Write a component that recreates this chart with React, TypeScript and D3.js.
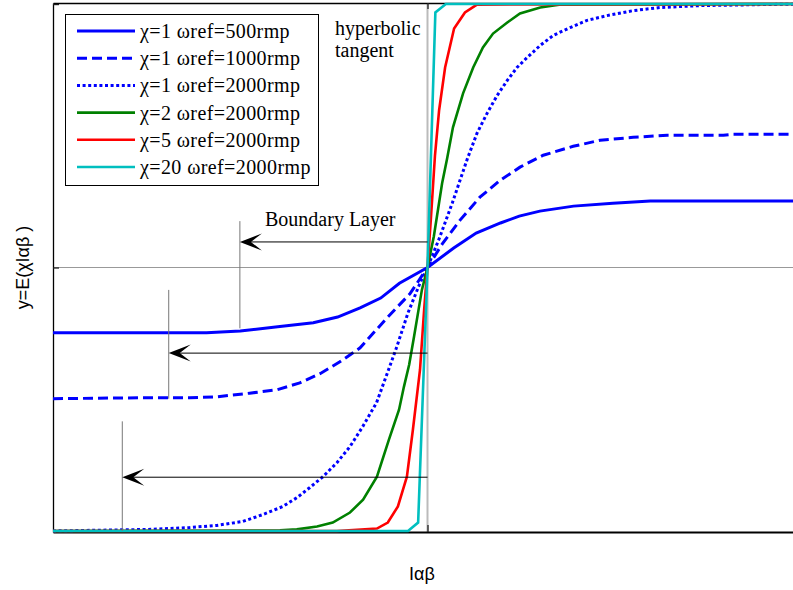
import { useRef, useEffect } from 'react';
import * as d3 from 'd3';

// Curve samples: x in arbitrary units (-10..10), y normalized to [-1, 1]
const chi1w500X = [-10, -5.9, -5.0, -4.0, -3.05, -2.4, -1.8, -1.25, -0.75, 0, 0.7, 1.3, 1.95, 2.45, 3.0, 3.9, 4.95, 5.95, 10];
const chi1w500Y = [-0.248, -0.248, -0.241, -0.225, -0.21, -0.188, -0.153, -0.116, -0.06, 0, 0.074, 0.131, 0.169, 0.195, 0.214, 0.233, 0.244, 0.252, 0.252];

const chi1w1000X = [-10, -7.37, -6.35, -5.63, -4.75, -4.02, -3.41, -2.87, -2.34, -1.8, -1.08, -0.47, 0, 0.41, 0.87, 1.4, 1.94, 2.47, 3.09, 3.89, 4.61, 5.49, 6.4, 7.9, 8.17, 10];
const chi1w1000Y = [-0.498, -0.494, -0.494, -0.491, -0.477, -0.464, -0.438, -0.403, -0.358, -0.305, -0.191, -0.1, 0, 0.093, 0.18, 0.267, 0.331, 0.381, 0.426, 0.46, 0.483, 0.494, 0.502, 0.502, 0.506, 0.506];

const chi1w2000X = [-10, -7.37, -6.35, -5.63, -4.93, -4.4, -3.86, -3.48, -3.14, -2.79, -2.42, -2.07, -1.73, -1.36, -1.06, -0.82, -0.52, -0.2, 0, 0.33, 0.66, 1.06, 1.32, 1.59, 1.86, 2.13, 2.39, 2.66, 3.01, 3.36, 3.81, 4.26, 4.79, 5.49, 6.22, 7.29, 8.89, 10];
const chi1w2000Y = [-1, -0.994, -0.987, -0.979, -0.964, -0.938, -0.907, -0.873, -0.835, -0.794, -0.741, -0.68, -0.604, -0.513, -0.396, -0.301, -0.172, -0.059, 0, 0.116, 0.244, 0.411, 0.509, 0.585, 0.653, 0.71, 0.759, 0.797, 0.843, 0.881, 0.911, 0.938, 0.956, 0.975, 0.987, 0.994, 0.998, 1];

const chi2X = [-10, -3.94, -3.49, -2.95, -2.53, -2.07, -1.72, -1.35, -1.03, -0.76, -0.63, -0.49, -0.36, -0.15, 0, 0.17, 0.39, 0.52, 0.68, 0.95, 1.22, 1.48, 1.75, 2.13, 2.47, 3.01, 3.56, 10];
const chi2Y = [-1, -0.998, -0.994, -0.983, -0.968, -0.93, -0.881, -0.794, -0.653, -0.54, -0.453, -0.369, -0.263, -0.085, 0, 0.119, 0.32, 0.411, 0.532, 0.661, 0.759, 0.835, 0.888, 0.93, 0.964, 0.987, 0.998, 1];

const chi5X = [-10, -2.42, -1.35, -1.06, -0.79, -0.55, -0.39, -0.2, -0.09, 0, 0.09, 0.2, 0.31, 0.47, 0.71, 1.0, 1.32, 10];
const chi5Y = [-1, -1, -0.991, -0.968, -0.907, -0.794, -0.616, -0.388, -0.161, 0, 0.184, 0.426, 0.597, 0.759, 0.907, 0.968, 0.998, 1];

const chi20X = [-10, -0.52, -0.25, 0, 0.21, 0.49, 10];
const chi20Y = [-1, -1, -0.968, 0, 0.968, 1, 1];

const legendLabels = [
  'χ=1 ωref=500rmp',
  'χ=1 ωref=1000rmp',
  'χ=1 ωref=2000rmp',
  'χ=2 ωref=2000rmp',
  'χ=5 ωref=2000rmp',
  'χ=20 ωref=2000rmp',
];

// boundary layer arrows: tip x, arrow y, guide line top / bottom
const arrowTipX = [-5.01, -6.91, -8.15];
const arrowY = [0.097, -0.325, -0.796];
const guideTop = [0.176, -0.085, -0.584];
const guideBottom = [-0.231, -0.498, -1.0];

const W = 793;
const H = 590;
const SERIF = '"Liberation Serif", "Times New Roman", serif';
const SANS = '"Liberation Sans", Arial, sans-serif';

export default function App() {
  const svgRef = useRef<SVGSVGElement>(null);

  useEffect(() => {
    if (!svgRef.current) return;
    const svg = d3.select(svgRef.current);
    svg.selectAll('*').remove();

    const xScale = d3.scaleLinear().domain([-10, 10]).range([53, 802]);
    const yScale = d3.scaleLinear().domain([-1.004, 1.004]).range([532, 3]);

    const series = [
      { xs: chi1w500X, ys: chi1w500Y, color: '#0000ff', dash: null, width: 3 },
      { xs: chi1w1000X, ys: chi1w1000Y, color: '#0000ff', dash: '10 5', width: 3 },
      { xs: chi1w2000X, ys: chi1w2000Y, color: '#0000ff', dash: '3 2.6', width: 3 },
      { xs: chi2X, ys: chi2Y, color: '#008000', dash: null, width: 2.6 },
      { xs: chi5X, ys: chi5Y, color: '#ff0000', dash: null, width: 2.6 },
      { xs: chi20X, ys: chi20Y, color: '#00bfbf', dash: null, width: 2.6 },
    ];

    // center guide lines
    svg.append('line')
      .attr('x1', xScale(-10)).attr('x2', xScale(10))
      .attr('y1', yScale(0)).attr('y2', yScale(0))
      .attr('stroke', '#999').attr('stroke-width', 1.2);
    svg.append('line')
      .attr('x1', xScale(0)).attr('x2', xScale(0))
      .attr('y1', yScale(1.004)).attr('y2', yScale(-1.004))
      .attr('stroke', '#bbb').attr('stroke-width', 2);

    // axes
    const axisLeft = d3.axisLeft(yScale).tickValues([-1, 0, 1]).tickSize(-6).tickSizeOuter(0).tickFormat(() => '');
    svg.append('g')
      .attr('transform', `translate(${xScale(-10)},0)`)
      .call(axisLeft);
    const axisBottom = d3.axisBottom(xScale).tickValues([0]).tickSize(-7).tickSizeOuter(0).tickFormat(() => '');
    svg.append('g')
      .attr('class', 'xb')
      .attr('transform', `translate(0,${yScale(-1.004)})`)
      .call(axisBottom);
    const axisTop = d3.axisTop(xScale).tickValues([0]).tickSize(-6).tickSizeOuter(0).tickFormat(() => '');
    svg.append('g')
      .attr('transform', `translate(0,${yScale(1.004)})`)
      .call(axisTop);
    svg.selectAll('.domain').attr('stroke', '#000').attr('stroke-width', 1.3);
    svg.select('.xb .domain').attr('stroke-width', 2);
    svg.selectAll('.tick line').attr('stroke', '#222').attr('stroke-width', 1.3);

    // curves
    const line = d3.line<[number, number]>()
      .x(d => xScale(d[0]))
      .y(d => yScale(d[1]));

    series.forEach(s => {
      const pts = s.xs.map((x, i) => [x, s.ys[i]] as [number, number]);
      svg.append('path')
        .datum(pts)
        .attr('fill', 'none')
        .attr('stroke', s.color)
        .attr('stroke-width', s.width)
        .attr('stroke-dasharray', s.dash)
        .attr('d', line);
    });

    // boundary layer annotations
    arrowTipX.forEach((tx, i) => {
      const px = xScale(tx);
      const py = yScale(arrowY[i]);
      svg.append('line')
        .attr('x1', px).attr('x2', px)
        .attr('y1', yScale(guideTop[i])).attr('y2', yScale(guideBottom[i]))
        .attr('stroke', '#777').attr('stroke-width', 1);
      svg.append('line')
        .attr('x1', px + 6).attr('x2', xScale(0))
        .attr('y1', py).attr('y2', py)
        .attr('stroke', '#000').attr('stroke-width', 1);
      svg.append('path')
        .attr('d', `M${px},${py} L${px + 22},${py - 8.5} L${px + 11},${py} L${px + 22},${py + 8.5} Z`)
        .attr('fill', '#000');
    });

    svg.append('text')
      .attr('x', 265).attr('y', 226)
      .attr('font-family', SERIF)
      .attr('font-size', 20)
      .text('Boundary Layer');

    // legend
    const lg = svg.append('g');
    lg.append('rect')
      .attr('x', 65.5).attr('y', 14.5)
      .attr('width', 253).attr('height', 171)
      .attr('fill', '#fff').attr('stroke', '#000').attr('stroke-width', 1);
    legendLabels.forEach((lab, i) => {
      const ry = 31 + i * 27.2;
      const s = series[i];
      lg.append('line')
        .attr('x1', 77).attr('x2', 135)
        .attr('y1', ry).attr('y2', ry)
        .attr('stroke', s.color)
        .attr('stroke-width', s.width)
        .attr('stroke-dasharray', s.dash);
      lg.append('text')
        .attr('x', 140).attr('y', ry + 7)
        .attr('font-family', SERIF)
        .attr('font-size', 20)
        .attr('letter-spacing', 0.4)
        .text(lab);
    });

    svg.append('text')
      .attr('font-family', SERIF)
      .attr('font-size', 20)
      .selectAll('tspan')
      .data(['hyperbolic', 'tangent'])
      .join('tspan')
      .attr('x', 335)
      .attr('y', (_, i) => 35 + i * 22)
      .text(d => d);

    // axis labels
    svg.append('text')
      .attr('transform', `translate(29,${yScale(0)}) rotate(-90)`)
      .attr('text-anchor', 'middle')
      .attr('font-family', SANS)
      .attr('font-size', 18)
      .text('y=E(χIαβ )');

    svg.append('text')
      .attr('x', 422).attr('y', 580)
      .attr('text-anchor', 'middle')
      .attr('font-family', SANS)
      .attr('font-size', 18)
      .text('Iαβ');
  }, []);

  return (
    <svg
      ref={svgRef}
      width={W}
      height={H}
      style={{ position: 'absolute', left: 0, top: 0, background: '#fff' }}
    />
  );
}
